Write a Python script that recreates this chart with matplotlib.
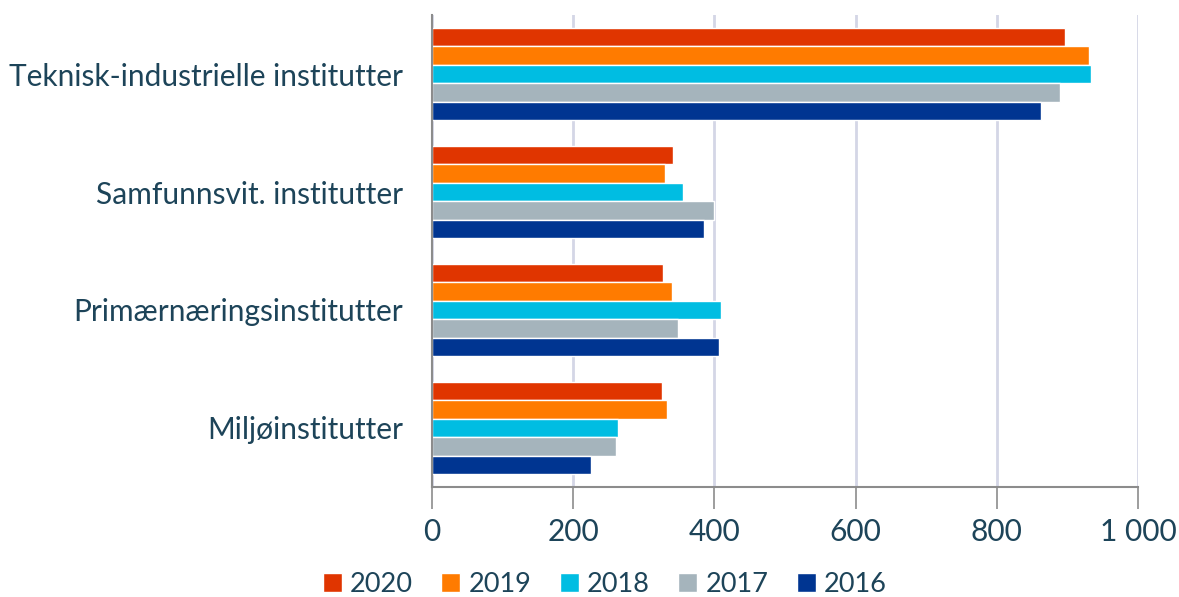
import matplotlib.pyplot as plt
import numpy as np

categories = ["Teknisk-industrielle institutter", "Samfunnsvit. institutter",
              "Primærnæringsinstitutter", "Miljøinstitutter"]
years = ["2020", "2019", "2018", "2017", "2016"]
v2020 = [897, 342, 327, 326]
v2019 = [931, 330, 340, 333]
v2018 = [934, 355, 409, 264]
v2017 = [890, 399, 348, 261]
v2016 = [863, 385, 406, 225]
series = [v2020, v2019, v2018, v2017, v2016]
colors = ["#e03500", "#ff7b00", "#00bde2", "#a5b4bc", "#003591"]
x_ticks = [0, 200, 400, 600, 800, 1000]
x_labels = ["0", "200", "400", "600", "800", "1 000"]

text_color = "#1d4459"
plt.rcParams["font.family"] = ["Lato", "DejaVu Sans"]

fig = plt.figure(figsize=(11.79, 5.97), dpi=100)
ax = fig.add_axes([432 / 1179, 1 - 487 / 597, (1138 - 432) / 1179, (487 - 15) / 597])

n = len(categories)
pos = np.arange(n)[::-1]  # top category first
bar_h = 0.157
for i, (vals, col, yr) in enumerate(zip(series, colors, years)):
    offset = (2 - i) * bar_h
    ax.barh(pos + offset, vals, height=bar_h, color=col, edgecolor="white",
            linewidth=1.0, label=yr, zorder=3)

ax.set_xlim(0, 1000)
ax.set_ylim(-0.5, n - 0.5)
ax.set_yticks(pos)
ax.set_yticklabels(categories, fontsize=21.5, color=text_color)
ax.set_xticks(x_ticks)
ax.set_xticklabels(x_labels, fontsize=21.5, color=text_color)
ax.tick_params(axis="y", length=0, pad=21)
ax.tick_params(axis="x", length=16, width=1.2, color="#8c8c8c", pad=6, direction="out")
ax.xaxis.grid(True, color="#d4d6e6", linewidth=2, zorder=0)

for s in ["top", "right"]:
    ax.spines[s].set_visible(False)
for s in ["left", "bottom"]:
    ax.spines[s].set_color("#8c8c8c")
    ax.spines[s].set_linewidth(1.5)
    ax.spines[s].set_zorder(5)

leg = fig.legend(loc="lower center", bbox_to_anchor=(0.513, -0.04), ncol=5, frameon=False,
                 fontsize=19.5, handlelength=0.7, handleheight=0.7, columnspacing=1.05,
                 handletextpad=0.3)
for t in leg.get_texts():
    t.set_color(text_color)

fig.savefig("out.png", dpi=100)
